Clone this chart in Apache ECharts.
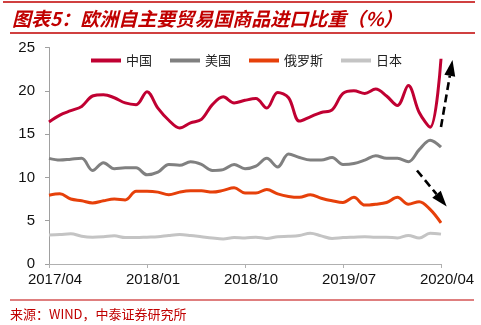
<!DOCTYPE html>
<html><head><meta charset="utf-8">
<script src="https://cdn.jsdelivr.net/npm/echarts@6/dist/echarts.min.js"></script>
<style>html,body{margin:0;padding:0;background:#fff}#c{width:481px;height:325px}</style>
</head><body><div id="c"></div>
<script>
const months = ['2017/04','2017/05','2017/06','2017/07','2017/08','2017/09','2017/10','2017/11','2017/12',
  '2018/01','2018/02','2018/03','2018/04','2018/05','2018/06','2018/07','2018/08','2018/09',
  '2018/10','2018/11','2018/12','2019/01','2019/02','2019/03','2019/04','2019/05','2019/06',
  '2019/07','2019/08','2019/09','2019/10','2019/11','2019/12','2020/01','2020/02','2020/03','2020/04'];
const seriesNames = ['中国','美国','俄罗斯','日本'];
const china  = [16.4,17.2,17.7,18.2,19.4,19.55,19.2,18.6,18.4,19.9,18.0,16.6,15.7,16.3,16.7,18.4,19.3,18.6,18.9,
                19.1,18.0,19.8,19.2,16.5,17.0,17.5,17.8,19.7,20.0,19.7,20.2,19.4,18.3,20.6,17.5,15.8,23.7];
const usa    = [12.2,12.0,12.1,12.2,10.8,11.7,11.0,11.1,11.1,10.3,10.6,11.5,11.4,11.8,11.5,10.8,10.9,11.5,11.0,
                11.3,12.2,11.2,12.7,12.3,12.0,12.0,12.3,11.5,11.6,12.0,12.5,12.2,12.2,11.8,13.2,14.3,13.5];
const russia = [7.95,8.1,7.5,7.3,7.05,7.3,7.5,7.4,8.4,8.4,8.3,8.0,8.3,8.45,8.45,8.3,8.5,8.8,8.2,
                8.2,8.6,8.1,7.8,7.7,8.0,7.6,7.3,7.1,7.7,6.8,6.9,7.1,7.7,6.9,7.2,6.3,4.75];
const japan  = [3.35,3.4,3.5,3.2,3.1,3.15,3.25,3.05,3.05,3.1,3.15,3.3,3.4,3.3,3.15,3.0,2.9,3.05,3.0,
                3.1,2.95,3.15,3.2,3.3,3.55,3.25,2.95,3.05,3.1,3.15,3.1,3.1,3.0,3.3,3.0,3.55,3.45];
const yTicks = [0,5,10,15,20,25];

const colors = ['#C00032','#808080','#E6400A','#C4C4C4'];
const chart = echarts.init(document.getElementById('c'), null, {renderer:'canvas'});

function arrow(x0,y0,x1,y1){
  const dx=x1-x0, dy=y1-y0, L=Math.sqrt(dx*dx+dy*dy), ux=dx/L, uy=dy/L;
  const hl=16, hw=5.5, bx=x1-hl*ux, by=y1-hl*uy, nx=-uy, ny=ux;
  return [
    {type:'line', shape:{x1:x0,y1:y0,x2:bx,y2:by}, style:{stroke:'#000',lineWidth:2.6,lineDash:[8,4.5]}},
    {type:'polygon', shape:{points:[[x1,y1],[bx+hw*nx,by+hw*ny],[bx-hw*nx,by-hw*ny]]}, style:{fill:'#000'}}
  ];
}

const series = [china,usa,russia,japan].map((d,i)=>({
  name: seriesNames[i], type:'line', data:d, symbol:'none', smooth:0.35,
  lineStyle:{width:3, color:colors[i]}, itemStyle:{color:colors[i]}, z: 10-i
}));

chart.setOption({
  animation:false,
  grid:{left:49,right:40,top:47.5,bottom:61,containLabel:false},
  legend:{data:seriesNames,left:86,top:49,icon:'rect',itemWidth:30,itemHeight:4,itemGap:18,
    textStyle:{fontSize:13,color:'#222',fontFamily:'Noto Sans CJK SC'}},
  xAxis:{type:'category',data:months,boundaryGap:false,
    axisLine:{lineStyle:{color:'#B0B0B0',width:1}},
    axisTick:{interval:8,length:4,lineStyle:{color:'#B0B0B0'}},
    axisLabel:{interval:8,fontSize:15,color:'#111',fontFamily:'Liberation Sans',margin:8,padding:[0,0,0,12]},
    splitLine:{show:false}},
  yAxis:{type:'value',min:yTicks[0],max:yTicks[yTicks.length-1],interval:5,
    axisLine:{show:true,lineStyle:{color:'#A0A0A0',width:1}},
    axisTick:{show:true,length:4,lineStyle:{color:'#A0A0A0'}},
    axisLabel:{fontSize:15,color:'#111',fontFamily:'Liberation Sans',margin:14},
    splitLine:{show:false}},
  series:series,
  graphic:[
    {type:'line',shape:{x1:3,y1:2,x2:475,y2:2},style:{stroke:'#C00000',lineWidth:1.5}},
    {type:'line',shape:{x1:10,y1:33,x2:475,y2:33},style:{stroke:'#C00000',lineWidth:1.5}},
    {type:'text',left:12,top:9,style:{text:'图表5：欧洲自主要贸易国商品进口比重（%）',fill:'#C00000',
      font:'italic bold 19px "Noto Sans CJK SC"'}},
    {type:'line',shape:{x1:10,y1:300,x2:474,y2:300},style:{stroke:'#C00000',lineWidth:1.2}},
    {type:'text',left:10,top:308,style:{text:'来源：WIND，中泰证券研究所',fill:'#C00000',
      font:'13px "Noto Sans CJK SC"'}},
    ...arrow(441,127,452.5,60),
    ...arrow(417,170.5,446.7,206.5)
  ]
});
</script></body></html>
